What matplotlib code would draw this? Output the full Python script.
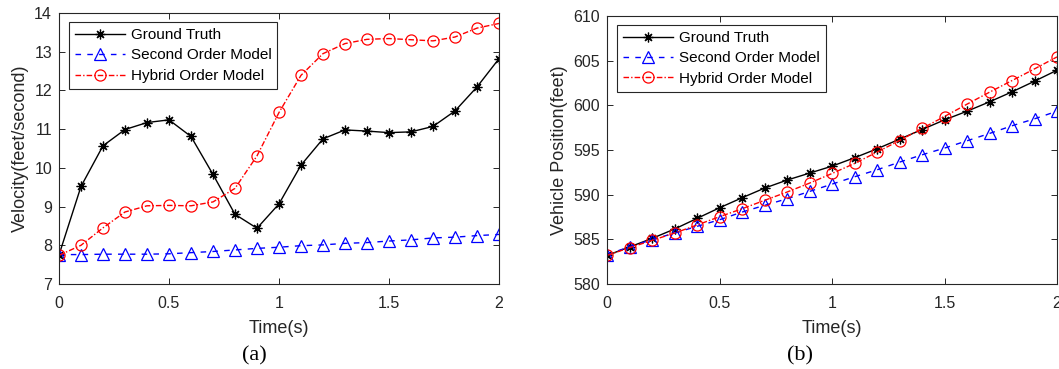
import numpy as np
import matplotlib
matplotlib.use("Agg")
import matplotlib.pyplot as plt

########################################
#   Data
########################################

time = [0.0, 0.1, 0.2, 0.3, 0.4, 0.5, 0.6, 0.7, 0.8, 0.9, 1.0,
        1.1, 1.2, 1.3, 1.4, 1.5, 1.6, 1.7, 1.8, 1.9, 2.0]

# (a) velocity [feet/second]
velTruth = [7.75, 9.52, 10.57, 10.99, 11.17, 11.24, 10.81, 9.83, 8.80, 8.44, 9.07,
            10.07, 10.75, 10.98, 10.95, 10.91, 10.93, 11.07, 11.47, 12.09, 12.82]
velSecond = [7.76, 7.76, 7.77, 7.77, 7.77, 7.78, 7.81, 7.84, 7.88, 7.92, 7.95,
             7.99, 8.01, 8.05, 8.07, 8.11, 8.14, 8.19, 8.21, 8.25, 8.28]
velHybrid = [7.74, 8.00, 8.45, 8.86, 9.02, 9.03, 9.02, 9.12, 9.47, 10.31, 11.43,
             12.39, 12.95, 13.21, 13.32, 13.34, 13.31, 13.28, 13.38, 13.61, 13.73]

# (b) position [feet]
posTruth = [583.2, 584.14, 585.1, 586.15, 587.34, 588.53, 589.65, 590.73, 591.63, 592.41, 593.19,
            594.13, 595.13, 596.21, 597.29, 598.37, 599.34, 600.39, 601.51, 602.70, 603.93]
posSecond = [583.28, 584.17, 584.96, 585.7, 586.45, 587.19, 588.05, 588.8, 589.54, 590.36, 591.18,
             592.0, 592.78, 593.64, 594.46, 595.21, 596.03, 596.85, 597.71, 598.49, 599.34]
posHybrid = [583.2, 584.06, 584.88, 585.7, 586.6, 587.53, 588.42, 589.36, 590.29, 591.29, 592.37,
             593.49, 594.76, 596.06, 597.41, 598.75, 600.13, 601.47, 602.77, 604.08, 605.42]

lineName = ["Ground Truth", "Second Order Model", "Hybrid Order Model"]

xTicks = [0, 0.5, 1, 1.5, 2]
xTickLabels = ["0", "0.5", "1", "1.5", "2"]
velTicks = [7, 8, 9, 10, 11, 12, 13, 14]
posTicks = [580, 585, 590, 595, 600, 605, 610]

########################################
#   Plot
########################################

plt.rcParams['font.family'] = ['Liberation Sans', 'DejaVu Sans']
grey = "#262626"

fig = plt.figure(figsize=(10.59, 3.69), dpi=100)
axA = fig.add_axes([59/1059, 1 - 284/369, 440/1059, 271/369])
axB = fig.add_axes([607/1059, 1 - 284/369, 450/1059, 268/369])


def drawPanel(ax, truth, second, hybrid, yTicks, yName, tag, tagX):
    ax.plot(time, truth, color="k", linestyle="-", linewidth=1.0,
            marker=(8, 2, 0), markersize=7, markeredgewidth=0.9, label=lineName[0])
    ax.plot(time, second, color="b", linestyle=(0, (4, 4.5)), linewidth=1.0,
            marker="^", markersize=8, markerfacecolor="none", markeredgewidth=0.9,
            label=lineName[1])
    ax.plot(time, hybrid, color="r", linestyle=(0, (4, 1.5, 1, 1.5)), linewidth=1.0,
            marker="o", markersize=8, markerfacecolor="none", markeredgewidth=0.9,
            label=lineName[2])
    ax.set_xlim(0, 2)
    ax.set_ylim(yTicks[0], yTicks[-1])
    ax.set_xticks(xTicks)
    ax.set_xticklabels(xTickLabels)
    ax.set_yticks(yTicks)
    ax.tick_params(direction="in", top=True, right=True, length=4, width=0.7,
                   labelsize=11.5, colors=grey)
    ax.tick_params(axis="x", pad=9)
    ax.tick_params(axis="y", pad=5)
    for s in ax.spines.values():
        s.set_color(grey)
        s.set_linewidth(0.8)
    ax.set_xlabel("Time(s)", fontsize=13, color=grey, labelpad=6)
    ax.set_ylabel(yName, fontsize=13, color=grey, labelpad=4)
    leg = ax.legend(loc="upper left", bbox_to_anchor=(0.022, 0.967), fontsize=11,
                    fancybox=False, framealpha=1, edgecolor=grey,
                    handlelength=3.3, handletextpad=0.35, borderpad=0.4,
                    labelspacing=0.42, borderaxespad=0)
    leg.get_frame().set_linewidth(0.8)
    fig.text(tagX, 1 - 356/369, tag, ha="center", va="center", fontsize=16,
             family="Liberation Serif")


drawPanel(axA, velTruth, velSecond, velHybrid, velTicks, "Velocity(feet/second)", "(a)", 254/1059)
drawPanel(axB, posTruth, posSecond, posHybrid, posTicks, "Vehicle Position(feet)", "(b)", 800/1059)

plt.savefig("out.png", dpi=100)
